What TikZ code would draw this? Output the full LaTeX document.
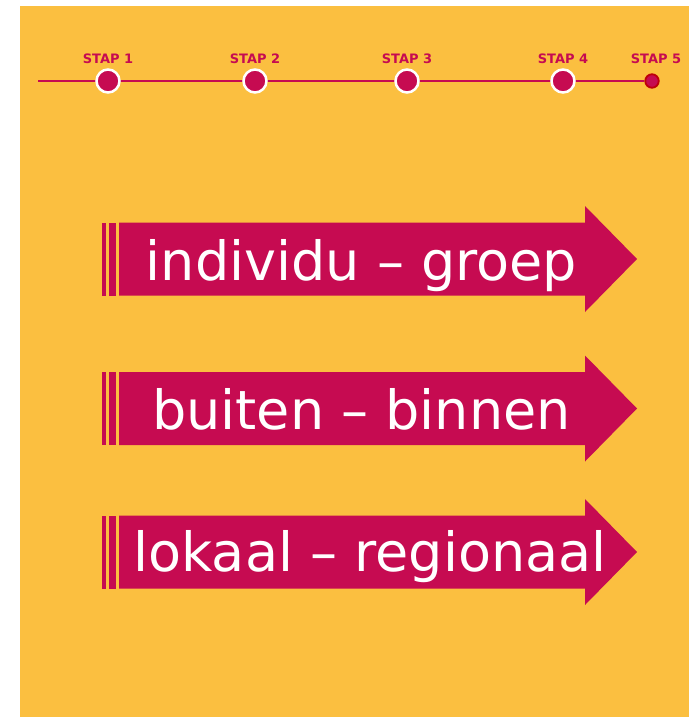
\documentclass[tikz,border=0pt]{standalone}
\usepackage{fontspec}
\setmainfont{DejaVu Sans}
\usepackage{tikz}
\usetikzlibrary{positioning, backgrounds}
\usepackage{xcolor}
\definecolor{StapOranje}{RGB}{251, 191, 64}
\definecolor{StapRood}{RGB}{198, 11, 81}
\definecolor{DonkerRood}{RGB}{190, 0, 10}

\begin{document}
\begin{tikzpicture}[
    x=1pt, y=-1pt,
    stapdot/.style={circle, fill=StapRood, draw=white, line width=2.5pt, minimum size=23pt, inner sep=0pt},
    eindpunt/.style={circle, fill=StapRood, draw=DonkerRood, line width=1.8pt, minimum size=13.5pt, inner sep=0pt},
    staplabel/.style={inner sep=0pt, text=StapRood, font=\fontsize{13}{15}\selectfont\bfseries},
    pijltekst/.style={anchor=base, inner sep=0pt, text=white, font=\fontsize{54}{60}\selectfont},
    bandpijl/.pic={
      \fill[StapRood] (-17,-36.5) rectangle (-13.5,36.5);
      \fill[StapRood] (-10.5,-36.5) rectangle (-3.5,36.5);
      \fill[StapRood] (0,-36.5) -- (466,-36.5) -- (466,-53) -- (518,0) -- (466,53) -- (466,36.5) -- (0,36.5) -- cycle;
    },
  ]
  \useasboundingbox (0,0) rectangle (700,717);

  % Tijdlijn met de stappen
  \coordinate (begin) at (38,81);
  \node[stapdot] (s1) at (108,81) {};
  \node[stapdot] (s2) at (255,81) {};
  \node[stapdot] (s3) at (407,81) {};
  \node[stapdot] (s4) at (563,81) {};
  \node[eindpunt] (s5) at (652,81) {};

  \node[staplabel, above=4.3pt of s1] {STAP 1};
  \node[staplabel, above=4.3pt of s2] {STAP 2};
  \node[staplabel, above=4.3pt of s3] {STAP 3};
  \node[staplabel, above=4.3pt of s4] {STAP 4};
  \node[staplabel, above=9.2pt of s5, xshift=4pt] {STAP 5};

  \begin{scope}[on background layer]
    \fill[white] (0,0) rectangle (700,717);
    \fill[StapOranje] (20,6) rectangle (689,717);
    \draw[StapRood, line width=2pt] (begin) -- (s5);
  \end{scope}

  % Drie pijlen
  \pic (p1) at (119,259) {bandpijl};
  \pic (p2) at (119,408.5) {bandpijl};
  \pic (p3) at (119,552) {bandpijl};

  \node[pijltekst] (t1) at (361.5,280) {individu – groep};
  \node[pijltekst] (t2) at (361.5,429.5) {buiten – binnen};
  \node[pijltekst] (t3) at (370,571) {lokaal – regionaal};
\end{tikzpicture}
\end{document}
